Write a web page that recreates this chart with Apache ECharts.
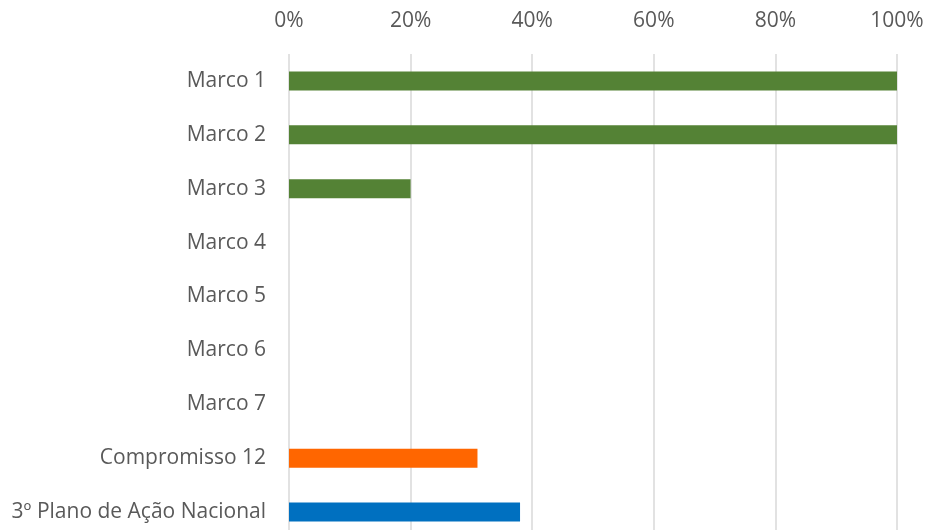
<!DOCTYPE html>
<html>
<head>
<meta charset="utf-8">
<style>
  html, body { margin: 0; padding: 0; background: #ffffff; }
  #chart { width: 926px; height: 530px; }
</style>
<script src="https://cdn.jsdelivr.net/npm/echarts@6/dist/echarts.min.js"></script>
</head>
<body>
<div id="chart"></div>
<script>
// Progress per milestone (fraction complete)
const categories = ['Marco 1', 'Marco 2', 'Marco 3', 'Marco 4', 'Marco 5', 'Marco 6', 'Marco 7', 'Compromisso 12', '3º Plano de Ação Nacional'];
const progress = [1.00, 1.00, 0.20, 0, 0, 0, 0, 0.31, 0.38];
const barColors = ['#548235', '#548235', '#548235', '#548235', '#548235', '#548235', '#548235', '#FF6600', '#0070C0'];
const xTicks = [0, 0.2, 0.4, 0.6, 0.8, 1.0];

const chart = echarts.init(document.getElementById('chart'));
const font = '"Open Sans", "DejaVu Sans", sans-serif';

chart.setOption({
  animation: false,
  // plot area runs past the bottom edge, so the last band is cut off
  grid: {
    left: 289, right: 29, top: 54, height: 485,
    containLabel: false,
    outerBoundsMode: 'none'
  },
  xAxis: {
    type: 'value',
    position: 'top',
    min: xTicks[0],
    max: xTicks[xTicks.length - 1],
    interval: xTicks[1] - xTicks[0],
    axisLine: { show: false },
    axisTick: { show: false },
    axisLabel: {
      color: '#595959',
      fontFamily: font,
      fontSize: 21,
      margin: 22,
      formatter: v => Math.round(v * 100) + '%'
    },
    splitLine: { show: true, lineStyle: { color: '#d9d9d9', width: 1.5 } }
  },
  yAxis: {
    type: 'category',
    data: categories,
    inverse: true,
    axisLine: { show: false },
    axisTick: { show: false },
    axisLabel: {
      color: '#595959',
      fontFamily: font,
      fontSize: 21,
      margin: 23
    }
  },
  series: [{
    type: 'bar',
    barWidth: 19,
    data: progress.map((v, i) => ({ value: v, itemStyle: { color: barColors[i] } }))
  }]
});
</script>
</body>
</html>
